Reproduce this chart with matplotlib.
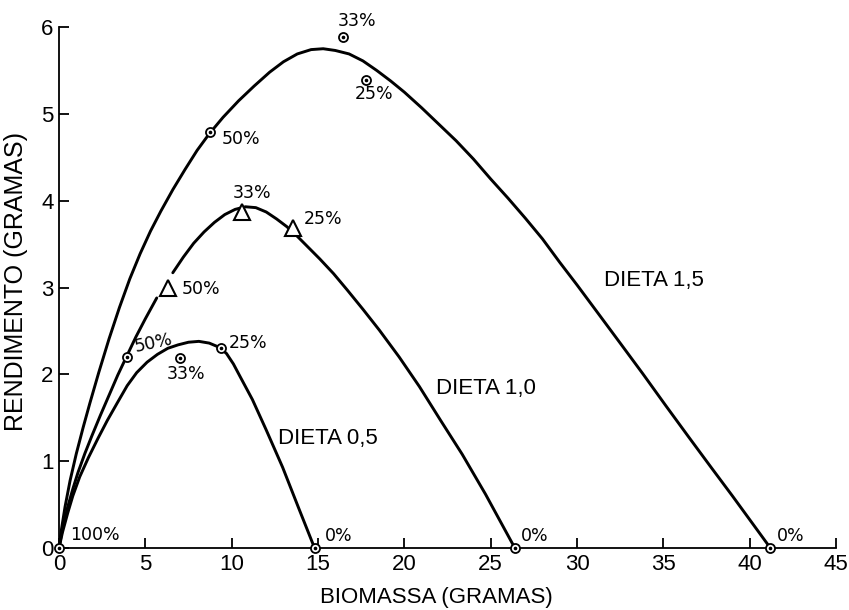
import numpy as np
import matplotlib
matplotlib.use('Agg')
import matplotlib.pyplot as plt

# curves (x = biomassa, y = rendimento)
x15 = [0, 0.15, 0.35, 0.64, 1.0, 1.4, 1.79, 2.3, 2.9, 3.5, 4.1, 4.7, 5.3, 5.9, 6.6,
       7.3, 8.0, 8.7, 9.5, 10.4, 11.3, 12.2, 13.0, 13.8, 14.6, 15.3, 16.0, 16.8, 17.6,
       18.4, 19.2, 20.0, 21.0, 22.0, 23.0, 24.0, 25.0, 26.0, 27.0, 28.0, 29.0, 30.0,
       31.27, 32.5, 33.8, 35.14, 36.5, 37.8, 39.0, 40.1, 41.2]
y15 = [0, 0.225, 0.475, 0.775, 1.085, 1.39, 1.67, 2.02, 2.41, 2.77, 3.1, 3.39, 3.65,
       3.88, 4.13, 4.36, 4.58, 4.77, 4.96, 5.15, 5.32, 5.48, 5.60, 5.69, 5.74, 5.75,
       5.73, 5.69, 5.61, 5.50, 5.38, 5.25, 5.07, 4.88, 4.69, 4.48, 4.25, 4.03, 3.80,
       3.56, 3.29, 3.03, 2.69, 2.36, 2.01, 1.64, 1.27, 0.92, 0.60, 0.30, 0]

# the drawn curve of dieta 1,0 breaks next to the 50% triangle
x10 = [0, 0.2, 0.5, 0.8, 1.1, 1.5, 1.9, 2.4, 2.9, 3.4, 3.9, 4.45, 5.0, 5.66, np.nan,
       6.59, 7.2, 7.8, 8.4, 9.0, 9.6, 10.2, 10.8, 11.4, 12.0, 12.6, 13.2, 13.8, 14.4,
       15.1, 15.9, 16.7, 17.6, 18.55, 19.7, 20.87, 22.1, 23.35, 24.7, 26.4]
y10 = [0, 0.22, 0.47, 0.68, 0.87, 1.09, 1.29, 1.53, 1.76, 1.99, 2.2, 2.43, 2.64, 2.88,
       np.nan, 3.17, 3.35, 3.51, 3.64, 3.75, 3.84, 3.90, 3.93, 3.92, 3.87, 3.79, 3.70,
       3.59, 3.47, 3.33, 3.16, 2.97, 2.75, 2.51, 2.2, 1.86, 1.47, 1.08, 0.62, 0]

x05 = [0, 0.2, 0.5, 0.8, 1.2, 1.7, 2.25, 2.8, 3.4, 3.95, 4.5, 5.1, 5.7, 6.3, 6.9, 7.5,
       8.1, 8.7, 9.3, 9.7, 10.1, 10.5, 11.2, 12.0, 12.95, 13.9, 14.8]
y05 = [0, 0.18, 0.4, 0.6, 0.82, 1.04, 1.26, 1.47, 1.68, 1.87, 2.02, 2.14, 2.23, 2.30,
       2.34, 2.37, 2.38, 2.36, 2.31, 2.24, 2.12, 1.97, 1.71, 1.36, 0.93, 0.45, 0]

# measured points
pts15_x = [0, 8.73, 16.47, 17.8, 41.2]
pts15_y = [0, 4.79, 5.88, 5.39, 0]
tri10_x = [6.3, 10.58, 13.53]
tri10_y = [3.0, 3.87, 3.68]
end10_x = [26.4]
end10_y = [0]
pts05_x = [3.93, 6.99, 9.36, 14.8]
pts05_y = [2.2, 2.19, 2.3, 0]

# percent labels: (text, x, y, rotation)
pct_labels = [
    ('100%', 0.64, 0.15, 0), ('50%', 9.42, 4.71, 0), ('33%', 16.13, 6.07, 0),
    ('25%', 17.1, 5.23, 0), ('0%', 41.56, 0.14, 0),
    ('50%', 7.1, 2.98, 0), ('33%', 10.06, 4.09, 0), ('25%', 14.2, 3.79, 0),
    ('0%', 26.76, 0.14, 0),
    ('50%', 4.28, 2.36, 12), ('33%', 6.24, 2.0, 0), ('25%', 9.83, 2.36, 0),
    ('0%', 15.38, 0.14, 0),
]
diet_names = ['DIETA 1,5', 'DIETA 1,0', 'DIETA 0,5']
diet_x = [31.56, 21.85, 12.66]
diet_y = [3.08, 1.84, 1.26]

xticks = list(range(0, 46, 5))
yticks = list(range(0, 7))

fig = plt.figure(figsize=(8.49, 6.10), dpi=100)
ax = fig.add_axes([0.0695, 0.1016, 0.9152, 0.8541])
ax.set_xlim(0, 45)
ax.set_ylim(0, 6)

lw = 2.1
ax.plot(x15, y15, color='black', lw=lw, solid_capstyle='round', solid_joinstyle='round')
ax.plot(x10, y10, color='black', lw=lw, solid_capstyle='round', solid_joinstyle='round')
ax.plot(x05, y05, color='black', lw=lw, solid_capstyle='round', solid_joinstyle='round')

circ = dict(marker='o', ms=6.5, mfc='white', mec='black', mew=1.3, ls='none',
            clip_on=False, zorder=5)
dot = dict(marker='o', ms=1.6, color='black', ls='none', clip_on=False, zorder=6)
ax.plot(pts15_x, pts15_y, **circ)
ax.plot(pts15_x, pts15_y, **dot)
ax.plot(pts05_x, pts05_y, **circ)
ax.plot(pts05_x, pts05_y, **dot)
ax.plot(end10_x, end10_y, **circ)
ax.plot(end10_x, end10_y, **dot)
ax.plot(tri10_x, tri10_y, marker='^', ms=11, mfc='white', mec='black', mew=1.5,
        ls='none', zorder=5)

for t, x, y, r in pct_labels:
    ax.text(x, y, t, fontsize=12.5, family='DejaVu Sans', ha='left', va='center',
            rotation=r)

for t, x, y in zip(diet_names, diet_x, diet_y):
    ax.text(x, y, t, fontsize=16, family='Liberation Sans', ha='left', va='center')

ax.spines['top'].set_visible(False)
ax.spines['right'].set_visible(False)
ax.spines['left'].set_linewidth(1.3)
ax.spines['bottom'].set_linewidth(1.3)
ax.set_xticks(xticks)
ax.set_yticks(yticks)
ax.tick_params(direction='in', length=7, width=1.3, labelsize=16, pad=4)
for lab in ax.get_xticklabels() + ax.get_yticklabels():
    lab.set_family('Liberation Sans')

ax.set_xlabel('BIOMASSA (GRAMAS)', fontsize=16, family='Liberation Sans')
ax.set_ylabel('RENDIMENTO (GRAMAS)', fontsize=18, family='Liberation Sans')
ax.xaxis.set_label_coords(0.486, -0.075)
ax.yaxis.set_label_coords(-0.040, 0.512)

fig.savefig('out.png', dpi=100, facecolor='white')
